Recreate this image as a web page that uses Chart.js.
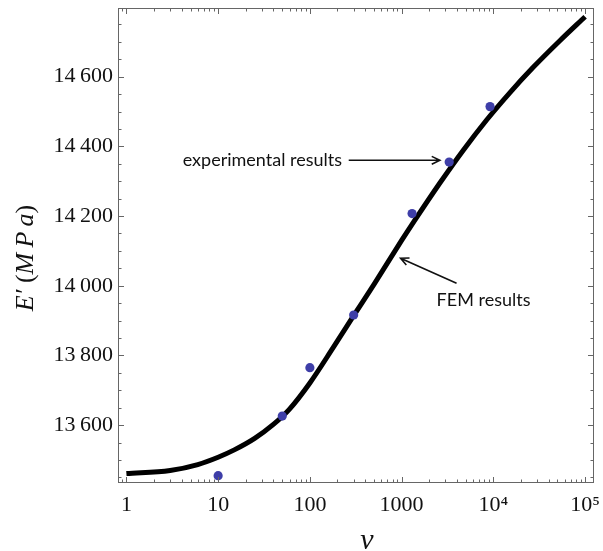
<!DOCTYPE html>
<html><head><meta charset="utf-8">
<script src="https://cdn.jsdelivr.net/npm/chart.js@4.4.1/dist/chart.umd.min.js"></script>
<style>html,body{margin:0;padding:0;background:#fff}#wrap{width:603px;height:551px}</style>
</head><body><div id="wrap"><canvas id="c" width="603" height="551"></canvas></div>
<script>
// FEM results (curve)
const femNu = [1, 3, 6, 10, 15, 25, 40, 60, 100, 180, 300, 500, 1000, 1400, 2600, 4700, 8400, 15000, 27000, 53000, 100000];
const femE  = [13461, 13470, 13487, 13508, 13529, 13562, 13602, 13646, 13721, 13823, 13914, 14004, 14130, 14189, 14294, 14389, 14475, 14553, 14626, 14703, 14772];
// experimental results (points)
const expNu = [10, 50, 100, 300, 1300, 3300, 9200];
const expE  = [13455, 13626, 13765, 13916, 14207, 14355, 14514];
// tick labels
const xTickValues = [1, 10, 100, 1000, 10000, 100000];
const xTickLabels = ['1', '10', '100', '1000', '10⁴', '10⁵'];
const yTickValues = [13600, 13800, 14000, 14200, 14400, 14600];
const yTickLabels = ['13\u2009600', '13\u2009800', '14\u2009000', '14\u2009200', '14\u2009400', '14\u2009600'];
// annotations
const annExpText = 'experimental results';
const annFemText = 'FEM results';

const frameColor = '#666';
const tickFont = {family: '"Liberation Serif", "DejaVu Serif", serif', size: 22};

const framePlugin = {
  id: 'frame',
  afterDraw(chart) {
    const ctx = chart.ctx;
    const xs = chart.scales.x, ys = chart.scales.y;
    const a = chart.chartArea;
    ctx.save();
    ctx.strokeStyle = frameColor;
    ctx.lineWidth = 1;
    ctx.strokeRect(a.left + 0.5, a.top + 0.5, a.right - a.left - 1, a.bottom - a.top - 1);
    ctx.beginPath();
    for (let d = -1; d <= 5; d++) {
      for (let m = 1; m <= 9; m++) {
        const v = m * Math.pow(10, d);
        if (v < xs.min || v > xs.max) continue;
        const px = Math.round(xs.getPixelForValue(v)) + 0.5;
        const len = m === 1 ? 6 : 3.5;
        ctx.moveTo(px, a.bottom); ctx.lineTo(px, a.bottom - len);
        ctx.moveTo(px, a.top); ctx.lineTo(px, a.top + len);
      }
    }
    for (let v = 13450; v <= 14800; v += 50) {
      if (v < ys.min || v > ys.max) continue;
      const py = Math.round(ys.getPixelForValue(v)) + 0.5;
      const len = (v % 200 === 0) ? 6 : 3.5;
      ctx.moveTo(a.left, py); ctx.lineTo(a.left + len, py);
      ctx.moveTo(a.right, py); ctx.lineTo(a.right - len, py);
    }
    ctx.stroke();

    // axis titles
    ctx.fillStyle = '#111';
    ctx.textBaseline = 'middle';
    const serif = '"Liberation Serif", "DejaVu Serif", serif';
    ctx.font = 'italic 30px ' + serif;
    ctx.textAlign = 'center';
    ctx.fillText('ν', (a.left + a.right) / 2 + 11, 541);
    const parts = [['E′', 'italic'], [' (', 'normal'], ['M\u2009P\u2009a', 'italic'], [')', 'normal']];
    let total = 0;
    parts.forEach(p => { ctx.font = p[1] + ' 26px ' + serif; p.push(ctx.measureText(p[0]).width); total += p[2]; });
    ctx.translate(26, 258);
    ctx.rotate(-Math.PI / 2);
    ctx.textAlign = 'left';
    let x0 = -total / 2;
    parts.forEach(p => { ctx.font = p[1] + ' 26px ' + serif; ctx.fillText(p[0], x0, 0); x0 += p[2]; });
    ctx.setTransform(1, 0, 0, 1, 0, 0);

    // annotations anchored in data space
    const sans = 'Lato, "Open Sans", sans-serif';
    ctx.font = '18px ' + sans;
    ctx.fillStyle = '#111';
    ctx.strokeStyle = '#111';
    ctx.lineWidth = 1.6;
    function arrow(x1, y1, x2, y2) {
      ctx.beginPath();
      ctx.moveTo(x1, y1); ctx.lineTo(x2, y2);
      const ang = Math.atan2(y2 - y1, x2 - x1);
      const h = 9, w = 0.45;
      ctx.moveTo(x2 - h * Math.cos(ang - w), y2 - h * Math.sin(ang - w));
      ctx.lineTo(x2, y2);
      ctx.lineTo(x2 - h * Math.cos(ang + w), y2 - h * Math.sin(ang + w));
      ctx.stroke();
    }
    const ey = ys.getPixelForValue(14360);
    ctx.textAlign = 'right';
    ctx.fillText(annExpText, xs.getPixelForValue(224), ey);
    arrow(xs.getPixelForValue(265), ey, xs.getPixelForValue(2610), ey);
    ctx.textAlign = 'left';
    ctx.fillText(annFemText, xs.getPixelForValue(2404), ys.getPixelForValue(13959));
    arrow(xs.getPixelForValue(3970), ys.getPixelForValue(14007), xs.getPixelForValue(973), ys.getPixelForValue(14079));
    ctx.restore();
  }
};

new Chart(document.getElementById('c'), {
  type: 'line',
  data: {
    datasets: [
      {
        label: 'FEM results',
        data: femNu.map((v, i) => ({x: v, y: femE[i]})),
        borderColor: '#000',
        borderWidth: 5,
        pointRadius: 0,
        fill: false,
        cubicInterpolationMode: 'monotone',
        order: 2
      },
      {
        label: 'experimental results',
        type: 'scatter',
        data: expNu.map((v, i) => ({x: v, y: expE[i]})),
        backgroundColor: 'rgb(62,62,168)',
        borderColor: 'rgb(62,62,168)',
        pointRadius: 4.6,
        borderWidth: 0,
        showLine: false,
        order: 1
      }
    ]
  },
  options: {
    responsive: false,
    devicePixelRatio: 1,
    animation: false,
    layout: {padding: {top: 8, right: 9, left: 0, bottom: 0}},
    plugins: {legend: {display: false}, tooltip: {enabled: false}},
    scales: {
      x: {
        type: 'logarithmic',
        min: 0.81, max: 125000,
        grid: {display: false, drawTicks: false},
        border: {display: false},
        afterBuildTicks: s => { s.ticks = xTickValues.map(v => ({value: v})); },
        afterFit: s => { s.height = 68; s.paddingLeft = 0; s.paddingRight = 0; },
        ticks: {
          autoSkip: false, maxRotation: 0, padding: 9,
          color: '#111', font: tickFont,
          callback: (v) => { const i = xTickValues.indexOf(v); return i >= 0 ? xTickLabels[i] : ''; }
        }
      },
      y: {
        type: 'linear',
        min: 13434, max: 14797,
        grid: {display: false, drawTicks: false},
        border: {display: false},
        afterBuildTicks: s => { s.ticks = yTickValues.map(v => ({value: v})); },
        afterFit: s => { s.width = 118; s.paddingTop = 0; s.paddingBottom = 0; },
        ticks: {
          autoSkip: false, padding: 5,
          color: '#111', font: tickFont,
          callback: (v) => { const i = yTickValues.indexOf(v); return i >= 0 ? yTickLabels[i] : ''; }
        }
      }
    }
  },
  plugins: [framePlugin]
});
</script></body></html>
